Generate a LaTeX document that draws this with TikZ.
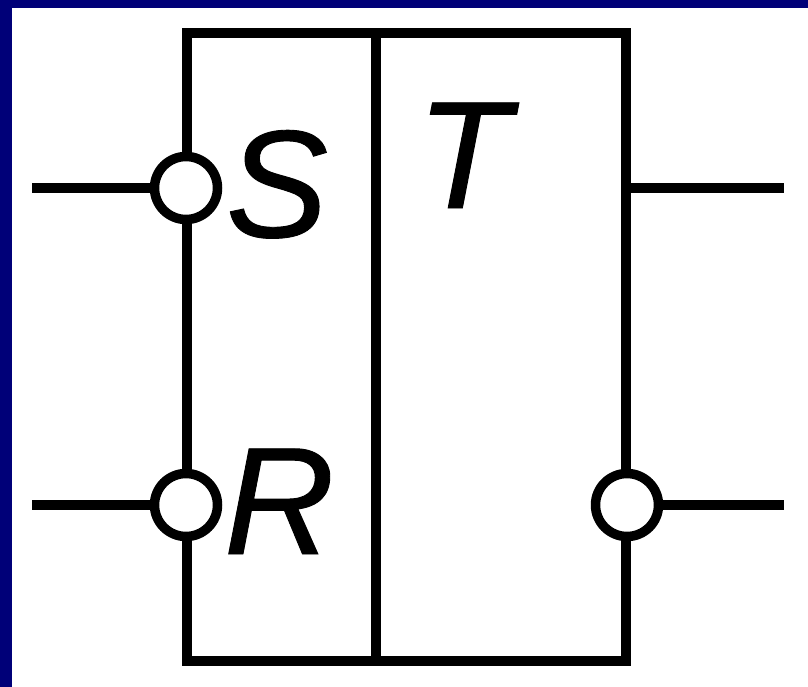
\documentclass[tikz,border=0pt]{standalone}
\usepackage{fontspec}
\setmainfont[ItalicFeatures={FakeBold=0.6}]{Liberation Sans}
\definecolor{bandblue}{RGB}{0,0,120}
\tikzset{
  wire/.style={line width=10.5pt,line cap=butt,black},
  bubble/.style={circle,draw=black,fill=white,line width=9.5pt,minimum size=63pt,inner sep=0pt,outer sep=0pt},
  lbl/.style={inner sep=0pt,outer sep=0pt,anchor=base west,font=\fontsize{153}{153}\selectfont\itshape}
}
\begin{document}
\begin{tikzpicture}[x=1pt,y=-1pt]
\useasboundingbox (0,0) rectangle (808,687);
\fill[bandblue] (0,0) rectangle (808,687);
\fill[white] (12,8) rectangle (808,687);
\coordinate (tl) at (187,33);
\coordinate (tm) at (376,33);
\coordinate (tr) at (626,33);
\coordinate (bl) at (187,661);
\coordinate (bm) at (376,661);
\coordinate (br) at (626,661);
\coordinate (in1) at (32,188);
\coordinate (in2) at (32,505);
\coordinate (out1) at (784,188);
\coordinate (out2) at (784,505);
\coordinate (outj) at (626,188);
\draw[wire,line join=miter] (tl) -- (tr) -- (br) -- (bl) -- cycle;
\draw[wire] (tm) -- (bm);
\draw[wire] (outj) -- (out1);
\node[bubble] (b1) at (186,188) {};
\node[bubble] (b2) at (186,505) {};
\node[bubble] (b3) at (627,505) {};
\draw[wire] (in1) -- (b1.west);
\draw[wire] (in2) -- (b2.west);
\draw[wire] (b3.east) -- (out2);
\node[lbl] (s) at (226,237) {S};
\node[lbl] (t) at (416.5,208) {T};
\node[lbl] (r) at (224,554) {R};
\end{tikzpicture}
\end{document}
